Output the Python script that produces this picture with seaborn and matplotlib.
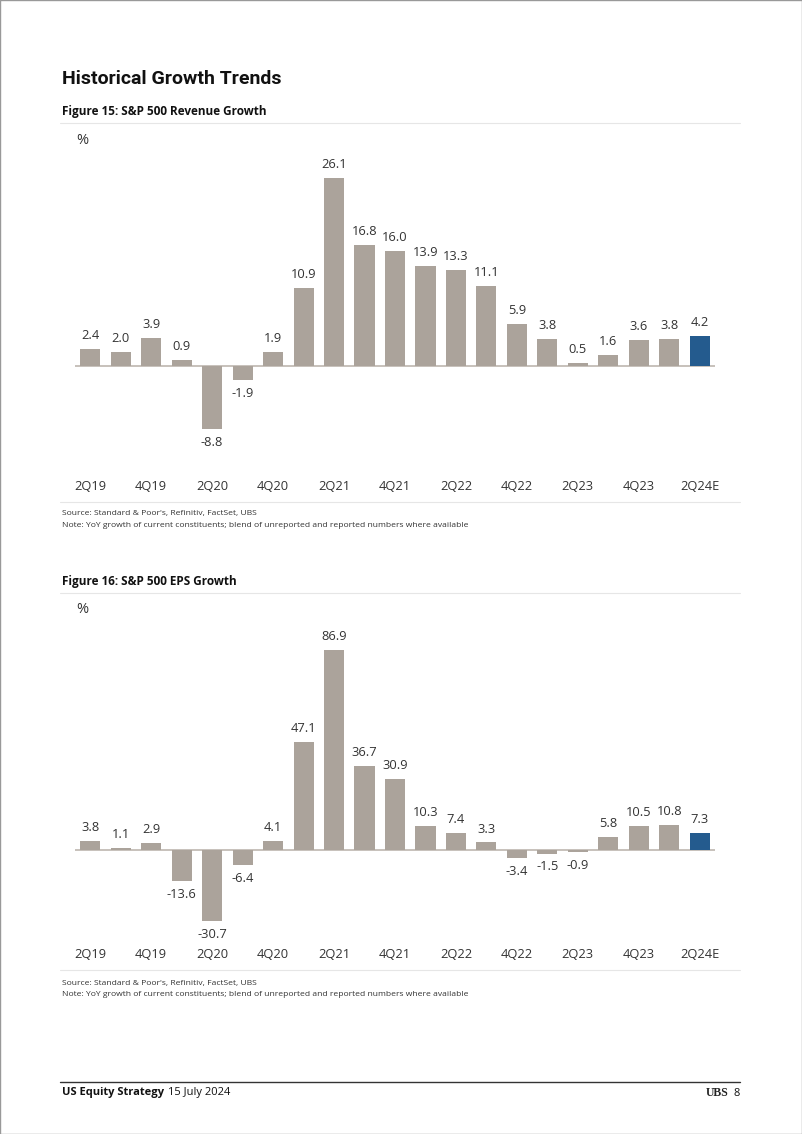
import matplotlib
matplotlib.use("Agg")
import matplotlib.pyplot as plt
import seaborn as sns
import numpy as np
from matplotlib.patches import Rectangle
from matplotlib.lines import Line2D

quarters = ["2Q19", "3Q19", "4Q19", "1Q20", "2Q20", "3Q20", "4Q20", "1Q21", "2Q21",
            "3Q21", "4Q21", "1Q22", "2Q22", "3Q22", "4Q22", "1Q23", "2Q23", "3Q23",
            "4Q23", "1Q24", "2Q24E"]
revenue_growth = [2.4, 2.0, 3.9, 0.9, -8.8, -1.9, 1.9, 10.9, 26.1, 16.8, 16.0, 13.9,
                  13.3, 11.1, 5.9, 3.8, 0.5, 1.6, 3.6, 3.8, 4.2]
eps_growth = [3.8, 1.1, 2.9, -13.6, -30.7, -6.4, 4.1, 47.1, 86.9, 36.7, 30.9, 10.3,
              7.4, 3.3, -3.4, -1.5, -0.9, 5.8, 10.5, 10.8, 7.3]
estimate_quarter = "2Q24E"

sns.set_theme(style="white")
plt.rcParams["font.family"] = ["Open Sans", "DejaVu Sans"]

W, H = 802, 1134
fig = plt.figure(figsize=(W / 100, H / 100), dpi=100)
GREY = "#ABA39B"
BLUE = "#245B8E"
TXT = "#333333"
palette = {q: (BLUE if q == estimate_quarter else GREY) for q in quarters}

def fx(px):
    return px / W

def fy(py):
    return 1 - py / H

def add_chart(top, bottom, ylim, values):
    ax = fig.add_axes([fx(75), fy(bottom), fx(715) - fx(75), (bottom - top) / H])
    ax.axhline(0, color="#BDB6AF", lw=1.2, zorder=0)
    sns.barplot(x=quarters, y=values, hue=quarters, palette=palette, dodge=False,
                legend=False, width=0.66, ax=ax, saturation=1, linewidth=0)
    ax.set_xlim(-0.5, len(quarters) - 0.5)
    ax.set_ylim(*ylim)
    for s in ax.spines.values():
        s.set_visible(False)
    ax.set_yticks([])
    ax.set_xticks(range(0, len(quarters), 2))
    ax.set_xticklabels(quarters[::2], fontsize=9.3, color=TXT)
    ax.tick_params(axis="x", length=0, pad=6)
    for c in ax.containers:
        ax.bar_label(c, fmt="%.1f", padding=5, fontsize=9.3, color=TXT)
    ax.set_xlabel("")
    ax.set_ylabel("")
    return ax

add_chart(150, 472, (-14.7, 30.0), revenue_growth)
add_chart(620, 940, (-39.1, 100.0), eps_growth)

# Page texts
fig.text(fx(62), fy(79), "Historical Growth Trends", fontsize=14, fontweight="bold",
         va="center", ha="left", color="#111111", family=["Roboto", "DejaVu Sans"])
for yt, title, ypct in [(111, "Figure 15: S&P 500 Revenue Growth", 140),
                        (581, "Figure 16: S&P 500 EPS Growth", 609)]:
    fig.text(fx(62), fy(yt), title, fontsize=8.5, fontweight="bold", va="center",
             ha="left", color="#111111")
    fig.text(fx(76), fy(ypct), "%", fontsize=10.5, va="center", ha="left", color=TXT)
    fig.add_artist(Line2D([fx(60), fx(740)], [fy(yt + 12), fy(yt + 12)],
                          color="#E6E6E6", lw=0.8, transform=fig.transFigure))

for ysep, ys in [(502, 514), (970, 983)]:
    fig.add_artist(Line2D([fx(60), fx(740)], [fy(ysep), fy(ysep)],
                          color="#E6E6E6", lw=0.8, transform=fig.transFigure))
    fig.text(fx(62), fy(ys), "Source: Standard & Poor's, Refinitiv, FactSet, UBS",
             fontsize=6.1, va="center", ha="left", color=TXT)
    fig.text(fx(62), fy(ys + 11),
             "Note: YoY growth of current constituents; blend of unreported and reported numbers where available",
             fontsize=6.1, va="center", ha="left", color=TXT)

# Footer
fig.add_artist(Line2D([fx(60), fx(740)], [fy(1082), fy(1082)], color="#333333", lw=1.0,
                      transform=fig.transFigure))
fig.text(fx(62), fy(1093), "US Equity Strategy", fontsize=8, fontweight="bold",
         va="center", ha="left", color="#111111")
fig.text(fx(168), fy(1093), "15 July 2024", fontsize=8, va="center", ha="left",
         color="#111111")
fig.text(fx(728), fy(1093), "UBS", fontsize=8.5, fontweight="bold", va="center", ha="right",
         color="#222222", family=["Liberation Serif", "DejaVu Serif"])
fig.text(fx(740), fy(1093), "8", fontsize=8, va="center", ha="right", color="#111111")

# page border
fig.add_artist(Rectangle((0, 0), 1, 1, transform=fig.transFigure, fill=False,
                         edgecolor="#999999", lw=1.0))

fig.savefig("out.png", dpi=100)
